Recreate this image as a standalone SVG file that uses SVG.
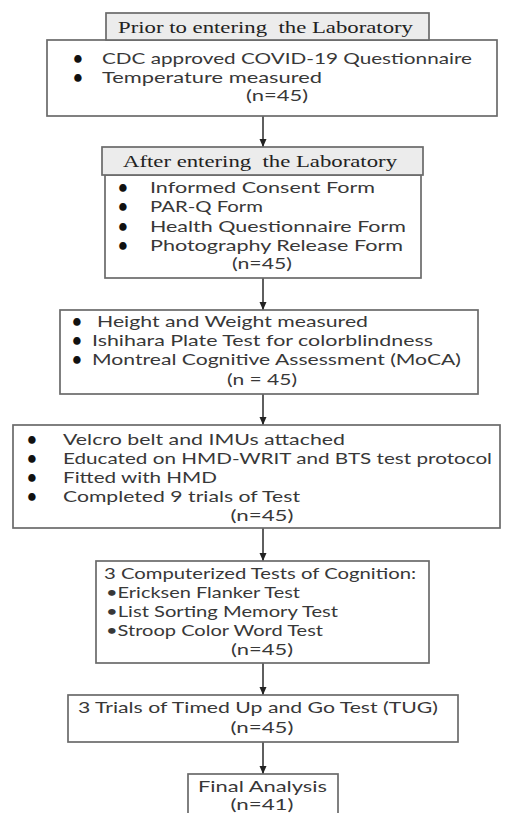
<svg xmlns="http://www.w3.org/2000/svg" width="505" height="813" viewBox="0 0 505 813">
<style>
.box{fill:#fff;stroke:#6a6a6a;stroke-width:1.7}
.hdr{fill:#ececec;stroke:#6a6a6a;stroke-width:1.7}
.t{font-family:Lato,"Open Sans",sans-serif;font-size:16px;fill:#383838}
.c{text-anchor:middle}
.h{font-family:"Liberation Serif","DejaVu Serif",serif;font-size:17px;fill:#222}
.b{font-family:Lato,"Open Sans",sans-serif;font-size:16px;font-weight:900;fill:#111;text-anchor:middle}
.ln{stroke:#2a2a2a;stroke-width:1.5;fill:none}
</style>
<defs>
<marker id="ah" markerWidth="8" markerHeight="8" refX="8" refY="4" orient="auto" markerUnits="userSpaceOnUse">
<path d="M0,0.5 L8,4 L0,7.5 Z" fill="#222"/>
</marker>
</defs>
<rect width="505" height="813" fill="#fff"/>
<g id="connectors">
<line class="ln" x1="263" y1="116" x2="263" y2="147" marker-end="url(#ah)"/>
<line class="ln" x1="263" y1="278" x2="263" y2="310" marker-end="url(#ah)"/>
<line class="ln" x1="263" y1="394" x2="263" y2="425" marker-end="url(#ah)"/>
<line class="ln" x1="263" y1="528" x2="263" y2="561" marker-end="url(#ah)"/>
<line class="ln" x1="263" y1="663" x2="263" y2="695" marker-end="url(#ah)"/>
<line class="ln" x1="263" y1="742" x2="263" y2="774" marker-end="url(#ah)"/>
</g>
<g id="node1">
<rect class="box" x="47" y="40" width="450" height="76"/>
<rect class="hdr" x="106" y="13" width="323" height="27"/>
<text class="h" x="118" y="33" xml:space="preserve" textLength="295" lengthAdjust="spacingAndGlyphs">Prior to entering  the Laboratory</text>
<text class="b" x="78" y="64">•</text>
<text class="b" x="78" y="83">•</text>
<text class="t" x="102" y="64" textLength="370" lengthAdjust="spacingAndGlyphs">CDC approved COVID-19 Questionnaire</text>
<text class="t" x="102" y="83" textLength="220" lengthAdjust="spacingAndGlyphs">Temperature measured</text>
<text class="t c" x="277" y="101" textLength="62" lengthAdjust="spacingAndGlyphs">(n=45)</text>
</g>
<g id="node2">
<rect class="box" x="105" y="175" width="316" height="103"/>
<rect class="hdr" x="102" y="147" width="321" height="28"/>
<text class="h" x="123" y="167" xml:space="preserve" textLength="274" lengthAdjust="spacingAndGlyphs">After entering  the Laboratory</text>
<text class="b" x="123" y="193">•</text>
<text class="b" x="123" y="212">•</text>
<text class="b" x="123" y="232">•</text>
<text class="b" x="123" y="251">•</text>
<text class="t" x="150" y="193" textLength="225" lengthAdjust="spacingAndGlyphs">Informed Consent Form</text>
<text class="t" x="150" y="212" textLength="113" lengthAdjust="spacingAndGlyphs">PAR-Q Form</text>
<text class="t" x="150" y="232" textLength="256" lengthAdjust="spacingAndGlyphs">Health Questionnaire Form</text>
<text class="t" x="150" y="251" textLength="253" lengthAdjust="spacingAndGlyphs">Photography Release Form</text>
<text class="t c" x="262" y="269" textLength="60" lengthAdjust="spacingAndGlyphs">(n=45)</text>
</g>
<g id="node3">
<rect class="box" x="60" y="310" width="418" height="84"/>
<text class="b" x="77" y="327">•</text>
<text class="b" x="77" y="346">•</text>
<text class="b" x="77" y="365">•</text>
<text class="t" x="97" y="327" textLength="271" lengthAdjust="spacingAndGlyphs">Height and Weight measured</text>
<text class="t" x="92" y="346" textLength="341" lengthAdjust="spacingAndGlyphs">Ishihara Plate Test for colorblindness</text>
<text class="t" x="92" y="365" textLength="369" lengthAdjust="spacingAndGlyphs">Montreal Cognitive Assessment (MoCA)</text>
<text class="t c" x="262" y="385" textLength="70" lengthAdjust="spacingAndGlyphs">(n = 45)</text>
</g>
<g id="node4">
<rect class="box" x="13" y="425" width="487" height="103"/>
<text class="b" x="32" y="445">•</text>
<text class="b" x="32" y="464">•</text>
<text class="b" x="32" y="483">•</text>
<text class="b" x="32" y="502">•</text>
<text class="t" x="63" y="445" textLength="282" lengthAdjust="spacingAndGlyphs">Velcro belt and IMUs attached</text>
<text class="t" x="63" y="464" textLength="429" lengthAdjust="spacingAndGlyphs">Educated on HMD-WRIT and BTS test protocol</text>
<text class="t" x="63" y="483" textLength="154" lengthAdjust="spacingAndGlyphs">Fitted with HMD</text>
<text class="t" x="63" y="502" textLength="237" lengthAdjust="spacingAndGlyphs">Completed 9 trials of Test</text>
<text class="t c" x="262" y="521" textLength="63" lengthAdjust="spacingAndGlyphs">(n=45)</text>
</g>
<g id="node5">
<rect class="box" x="96" y="561" width="333" height="102"/>
<text class="t" x="104" y="579" textLength="312" lengthAdjust="spacingAndGlyphs">3 Computerized Tests of Cognition:</text>
<text class="t" x="106" y="598" textLength="194" lengthAdjust="spacingAndGlyphs">•Ericksen Flanker Test</text>
<text class="t" x="106" y="617" textLength="232" lengthAdjust="spacingAndGlyphs">•List Sorting Memory Test</text>
<text class="t" x="106" y="636" textLength="217" lengthAdjust="spacingAndGlyphs">•Stroop Color Word Test</text>
<text class="t c" x="262" y="655" textLength="62" lengthAdjust="spacingAndGlyphs">(n=45)</text>
</g>
<g id="node6">
<rect class="box" x="68" y="695" width="390" height="47"/>
<text class="t" x="78" y="713" textLength="360" lengthAdjust="spacingAndGlyphs">3 Trials of Timed Up and Go Test (TUG)</text>
<text class="t c" x="262" y="733" textLength="63" lengthAdjust="spacingAndGlyphs">(n=45)</text>
</g>
<g id="node7">
<rect class="box" x="188" y="774" width="150" height="45"/>
<text class="t" x="198" y="792" textLength="129" lengthAdjust="spacingAndGlyphs">Final Analysis</text>
<text class="t c" x="262" y="810" textLength="63" lengthAdjust="spacingAndGlyphs">(n=41)</text>
</g>
</svg>
